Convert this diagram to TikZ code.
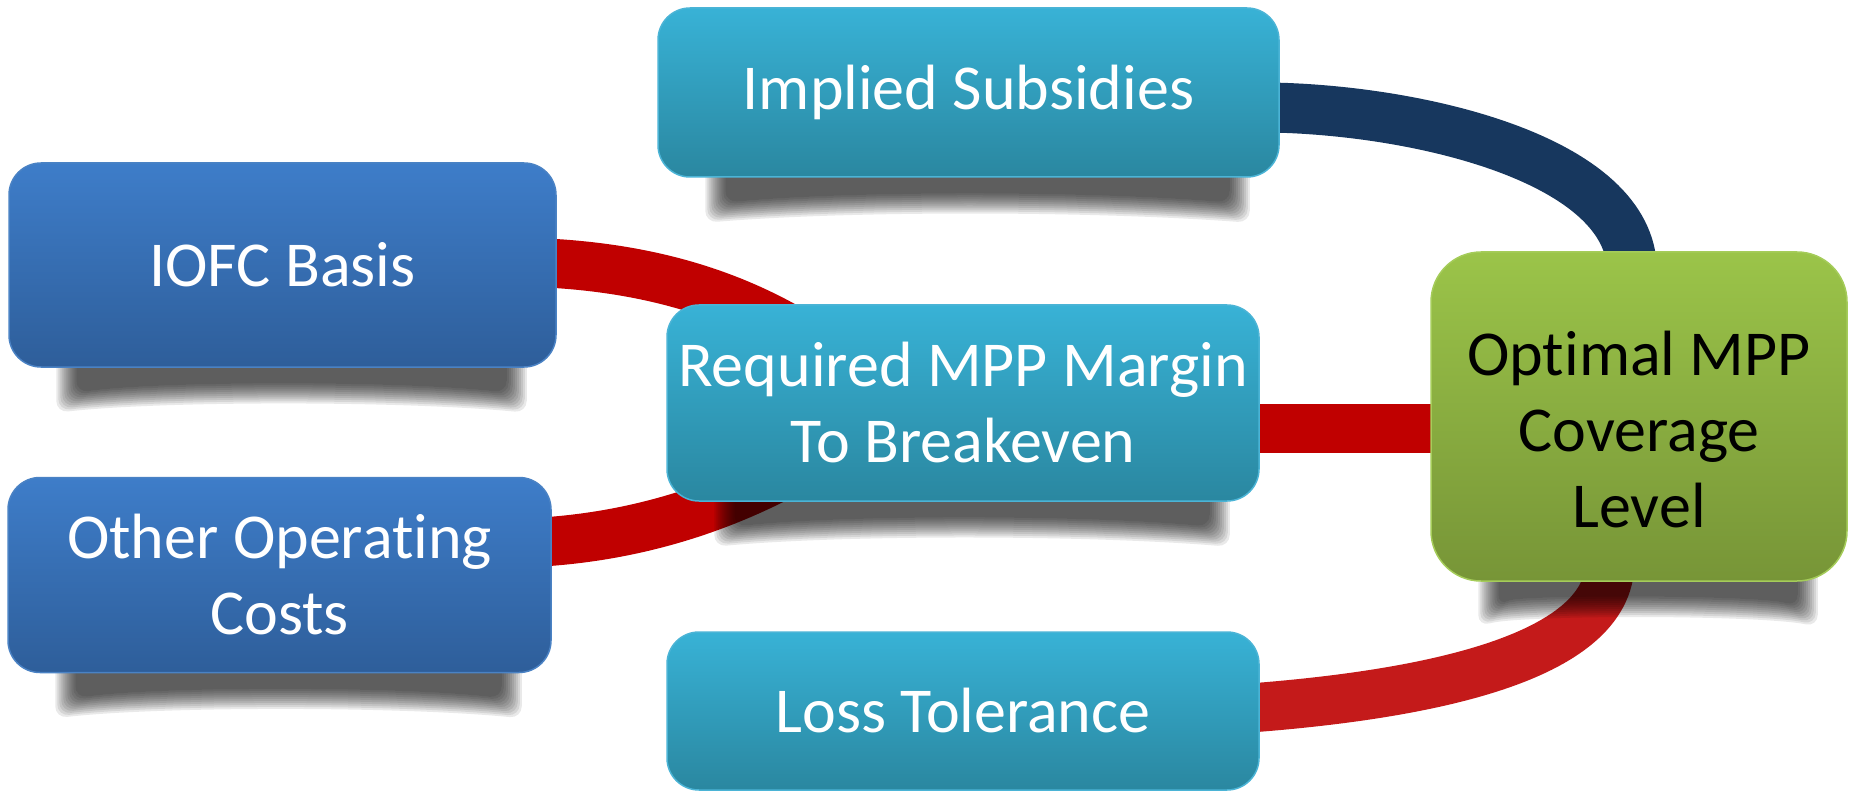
\documentclass[tikz,border=0pt]{standalone}
\usepackage{fontspec}
\setmainfont[Ligatures=NoCommon]{Carlito}
\usetikzlibrary{calc}
\definecolor{bluetop}{HTML}{3E7DC9}
\definecolor{bluebot}{HTML}{2E5E9A}
\definecolor{blueedge}{HTML}{4A82C4}
\definecolor{cyantop}{HTML}{38B2D6}
\definecolor{cyanbot}{HTML}{2A87A0}
\definecolor{cyanedge}{HTML}{4BB4D6}
\definecolor{greentop}{HTML}{9BC449}
\definecolor{greenbot}{HTML}{779537}
\definecolor{greenedge}{HTML}{A5CC5A}
\definecolor{navy}{HTML}{17375E}
\definecolor{darkred}{HTML}{C00000}
\definecolor{lossred}{HTML}{C41A1A}
\pgfdeclarelayer{conns}
\pgfdeclarelayer{shads}
\pgfsetlayers{conns,shads,main}
\tikzset{
  base/.style={rounded corners=32pt, inner sep=0pt, align=center,
    font=\fontsize{64}{76}\selectfont, line width=1.5pt},
  bluebox/.style={base, top color=bluetop, bottom color=bluebot, draw=blueedge, text=white},
  cyanbox/.style={base, top color=cyantop, bottom color=cyanbot, draw=cyanedge, text=white},
  greenbox/.style={base, rounded corners=50pt, top color=greentop, bottom color=greenbot, draw=greenedge, text=black},
  conn/.style={line width=49pt, darkred},
  lossconn/.style={line width=49pt, lossred},
  navyconn/.style={line width=50pt, navy},
  shadowlayer/.style={black, opacity=0.088, rounded corners=12pt},
}
\newcommand\shadowunder[1]{%
  \foreach \d in {0,2,...,20}{%
    \fill[shadowlayer]
      ($(#1.south west)+(68-\d,-30)$) -- ($(#1.south east)+(-50+\d,-30)$)
      -- ($(#1.south east)+(-50+\d,25+\d)$)
      .. controls ($(#1.south)+(120,13+\d)$) and ($(#1.south)+(-120,13+\d)$) ..
      ($(#1.south west)+(68-\d,25+\d)$) -- cycle;
  }}
\begin{document}
\begin{tikzpicture}[x=1pt, y=-1pt]
\useasboundingbox (0,0) rectangle (1853,794);
% boxes
\node[cyanbox, minimum width=621pt, minimum height=169pt] (imp) at (968.5,92.5) {Implied Subsidies};
\node[bluebox, minimum width=547pt, minimum height=204pt] (iofc) at (282.5,265) {IOFC Basis};
\node[cyanbox, minimum width=592pt, minimum height=196pt] (req) at (963,403) {Required MPP Margin\\To Breakeven};
\node[bluebox, minimum width=543pt, minimum height=195pt] (oth) at (279.5,575) {Other Operating\\Costs};
\node[greenbox, minimum width=416pt, minimum height=329pt] (opt) at (1639,416.5) {\rule{0pt}{70pt}Optimal MPP\\Coverage\\Level};
\node[cyanbox, minimum width=592pt, minimum height=158pt] (loss) at (963,711) {Loss Tolerance};
% connectors
\begin{pgfonlayer}{conns}
\draw[navyconn] ($(imp.east)+(-10,15)$) .. controls (1420,110) and (1632,160) .. ($(opt.north)+(-7,20)$);
\draw[conn] ($(iofc.east)+(-10,-2)$) .. controls (680,270) and (780,310) .. ($(req.west)+(200,-20)$);
\draw[conn] ($(oth.east)+(-10,-33)$) .. controls (650,535) and (760,500) .. ($(req.west)+(200,20)$);
\draw[conn] ($(req.east)+(-10,25)$) -- ($(opt.west)+(10,11.5)$);
\draw[lossconn] ($(loss.east)+(-10,-3)$) .. controls (1420,695) and (1610,660) .. ($(opt.south)+(-29,-20)$);
\end{pgfonlayer}
% shadows
\begin{pgfonlayer}{shads}
\shadowunder{imp}
\shadowunder{iofc}
\shadowunder{req}
\shadowunder{oth}
\shadowunder{opt}
\end{pgfonlayer}
\end{tikzpicture}
\end{document}
